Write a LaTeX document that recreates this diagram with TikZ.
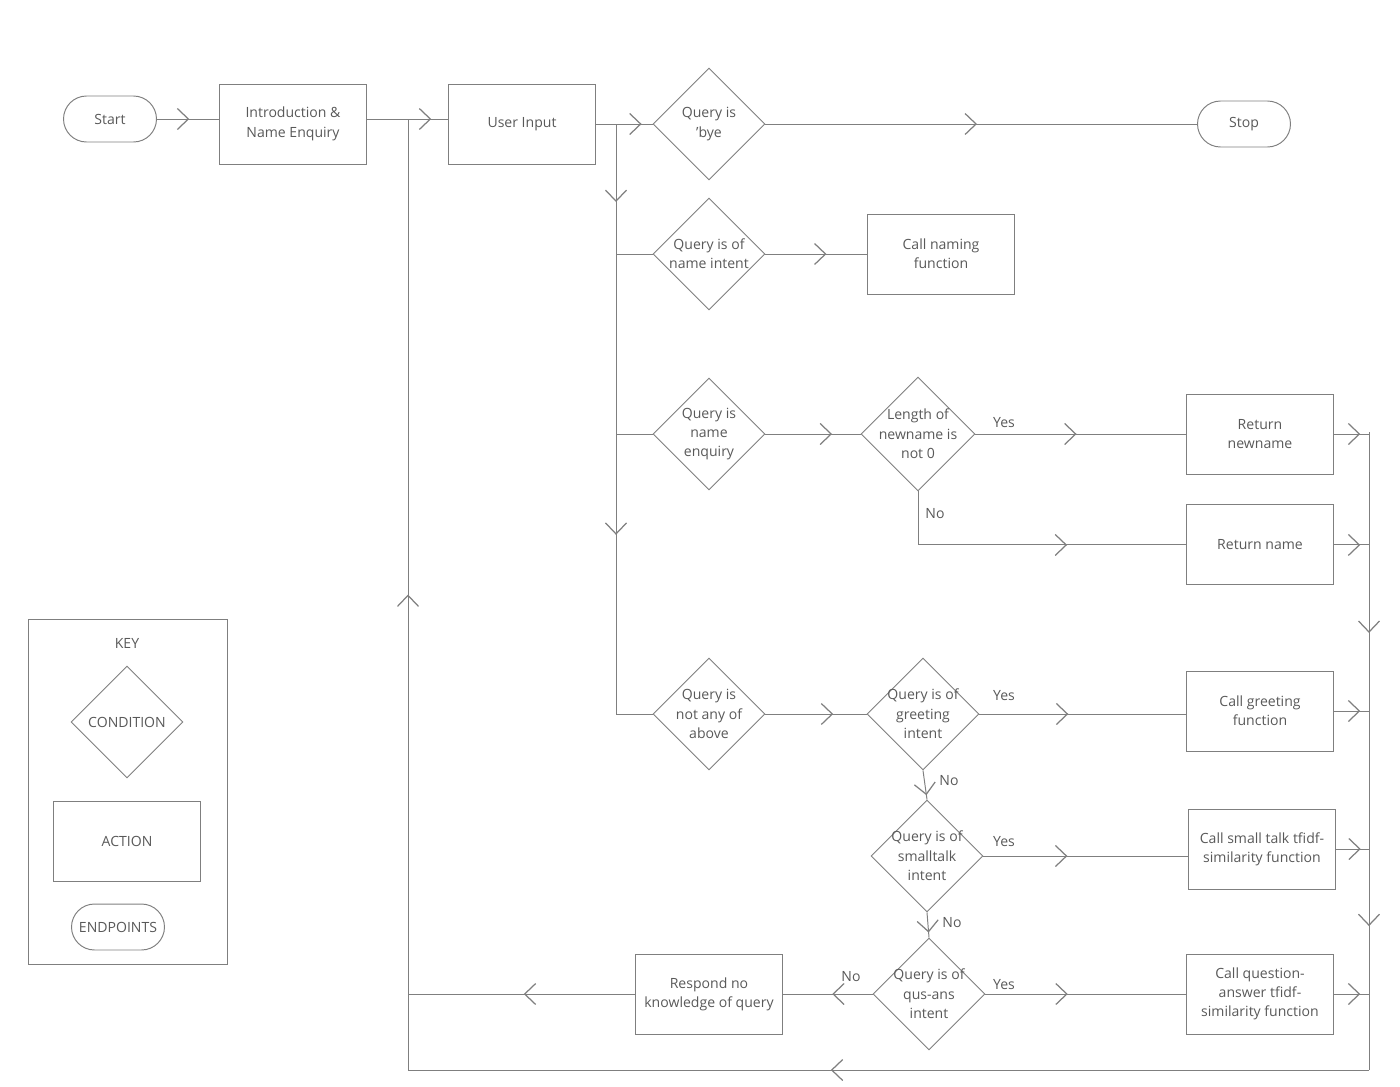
\documentclass[tikz,border=0pt]{standalone}
\usepackage{fontspec}
\setmainfont{Open Sans}
\usepackage{tikz}
\usetikzlibrary{positioning}
\usetikzlibrary{shapes,arrows.meta,calc,decorations.markings}
\usepackage{xcolor}
\definecolor{linegray}{HTML}{7F7F7F}
\definecolor{textgray}{HTML}{595959}
\tikzset{
  flow/.style={draw=linegray, line width=0.55pt},
  chev/.style={flow, postaction={decorate}, decoration={markings, mark=at position #1 with {\arrow[linegray, line width=0.7pt]{Straight Barb[length=2.2mm,width=4.2mm]}}}},
  chev/.default=0.5,
}

\begin{document}
\begin{tikzpicture}[x=0.02cm,y=-0.02cm,
            every node/.style={font=\fontsize{8pt}{11pt}\selectfont, text=textgray, align=center},
            action/.style={rectangle, draw=linegray, line width=0.55pt, minimum width=2.94cm, minimum height=1.6cm},
            cond/.style={diamond, draw=linegray, line width=0.55pt, minimum width=2.24cm, minimum height=2.24cm, inner sep=-2pt},
            ends/.style={rectangle, rounded corners=0.46cm, draw=linegray, line width=0.55pt, minimum width=1.86cm, minimum height=0.92cm},
            tag/.style={inner sep=1pt}]
            \useasboundingbox (0,0) rectangle (1400,1086);

            \node[ends] (start) at (110,119) {Start};
            \node[action] (intro) at (293,124) {Introduction \&\\Name Enquiry};
            \node[action] (input) at (522,124) {User Input};
            \node[cond] (bye) at (709,124) {Query is\\'bye};
            \node[ends] (stop) at (1244,124) {Stop};
            \node[cond] (nameint) at (709,254) {Query is of\\name intent};
            \node[action] (naming) at (941,254) {Call naming\\function};
            \node[cond] (enquiry) at (709,434) {Query is\\name\\enquiry};
            \node[cond] (length) at (918,434) {Length of\\newname is\\not 0};
            \node[action] (newname) at (1260,434) {Return\\newname};
            \node[action, below=0.6cm of newname] (retname) {Return name};
            \node[cond] (other) at (709,714) {Query is\\not any of\\above};
            \node[cond] (greet) at (923,714) {Query is of\\greeting\\intent};
            \node[action] (greetfn) at (1260,711) {Call greeting\\function};
            \node[cond] (small) at (927,856) {Query is of\\smalltalk\\intent};
            \node[action] (smallfn) at (1262,849) {Call small talk tfidf-\\similarity function};
            \node[cond] (qa) at (929,994) {Query is of\\qus-ans\\intent};
            \node[action] (qafn) at (1260,994) {Call question-\\answer tfidf-\\similarity function};
            \node[action] (respond) at (709,994) {Respond no\\knowledge of query};

            \node[tag] (yes1) at (1004,423) {Yes};
            \node[tag] (no1) at (935,514) {No};
            \node[tag] (yes2) at (1004,696) {Yes};
            \node[tag] (no2) at (949,781) {No};
            \node[tag] (yes3) at (1004,842) {Yes};
            \node[tag] (no3) at (952,923) {No};
            \node[tag] (yes4) at (1004,985) {Yes};
            \node[tag] (no4) at (851,977) {No};

            \node[draw=linegray, line width=0.55pt, minimum width=4cm, minimum height=6.92cm] (key) at (128,792) {};
            \node (keytitle) at (127,643) {KEY};
            \node[cond, inner sep=0pt] (keycond) at (127,722) {CONDITION};
            \node[action] (keyaction) at (127,841) {ACTION};
            \node[ends] (keyends) at (118,927) {ENDPOINTS};

            \coordinate (jin) at (408,119);
            \coordinate (jsplit) at (616,124);
            \coordinate (rtop) at (1369,432);
            \coordinate (rbot) at (1369,1070);
            \coordinate (lbot) at (408,1070);

            \draw[chev=0.52] (start.east) -- (start.east -| intro.west);
            \draw[flow] (jin -| intro.east) -- (jin);
            \draw[chev=0.58] (jin) -- (jin -| input.west);
            \draw[flow] (input.east) -- (jsplit);
            \draw[chev=0.7] (jsplit) -- (bye.west);
            \draw[chev=0.49] (bye.east) -- (stop.west);
            \draw[chev=0.6] (jsplit) -- (jsplit |- nameint);
            \draw[flow] (jsplit |- nameint) -- (nameint.west);
            \draw[flow] (jsplit |- nameint) -- (jsplit |- enquiry) -- (enquiry.west);
            \draw[chev=0.36] (jsplit |- enquiry) -- (jsplit |- other);
            \draw[flow] (jsplit |- other) -- (other.west);
            \draw[chev=0.6] (nameint.east) -- (naming.west);
            \draw[chev=0.7] (enquiry.east) -- (length.west);
            \draw[chev=0.48] (length.east) -- (newname.west);
            \draw[chev=0.63] (length.south) |- (retname.west);
            \draw[chev=0.67] (other.east) -- (greet.west);
            \draw[chev=0.43] (greet.east) -- (greet.east -| greetfn.west);
            \draw[chev=0.85] (greet.south) -- (small.north);
            \draw[chev=0.41] (small.east) -- (small.east -| smallfn.west);
            \draw[chev=0.8] (small.south) -- (qa.north);
            \draw[chev=0.41] (qa.east) -- (qa.east -| qafn.west);
            \draw[chev=0.45] (qa.west) -- (respond.east);
            \draw[chev=0.49] (respond.west) -- (respond.west -| lbot);

            \draw[chev=0.75] (newname.east) -- (newname.east -| rtop);
            \draw[chev=0.75] (retname.east) -- (retname.east -| rtop);
            \draw[chev=0.75] (greetfn.east) -- (greetfn.east -| rtop);
            \draw[chev=0.75] (smallfn.east) -- (smallfn.east -| rtop);
            \draw[chev=0.75] (qafn.east) -- (qafn.east -| rtop);
            \draw[chev=0.72] (rtop) -- (rtop |- greetfn);
            \draw[chev=0.76] (rtop |- greetfn) -- (rtop |- qafn);
            \draw[flow] (rtop |- qafn) -- (rbot);
            \draw[chev=0.56] (rbot) -- (lbot);
            \draw[chev=0.5] (lbot) -- (jin);

\end{tikzpicture}
\end{document}
